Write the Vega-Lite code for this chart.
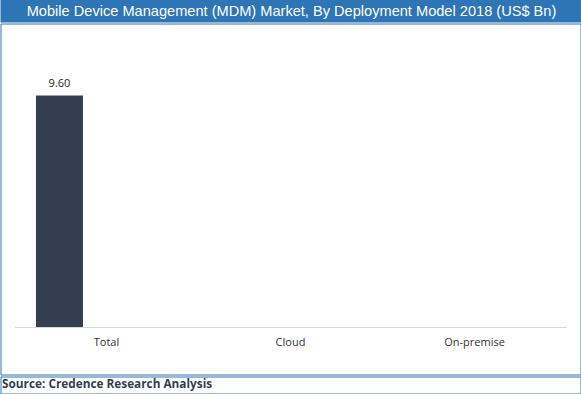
{
  "$schema": "https://vega.github.io/schema/vega-lite/v6.json",
  "padding": {"left": -0.5, "top": -0.5, "right": 0, "bottom": 0},
  "background": "white",
  "spacing": 0,
  "config": {"view": {"stroke": null}},
  "vconcat": [
    {
      "width": 582,
      "height": 23,
      "view": {"fill": "#2E75B6", "stroke": null},
      "data": {"values": [{"t": "Mobile Device Management (MDM) Market, By Deployment Model 2018 (US$ Bn)"}]},
      "mark": {"type": "text", "color": "white", "font": "Liberation Sans", "fontSize": 14.6, "baseline": "middle", "align": "center", "dy": 0.5},
      "encoding": {"text": {"field": "t"}}
    },
    {
      "spacing": 0,
      "vconcat": [
        {
          "width": 580,
          "height": 351,
          "view": {"stroke": "#2E75B6", "strokeWidth": 1},
          "data": {"values": [
            {"category": "Total", "series": "Total", "value": 9.6},
            {"category": "Cloud", "series": "Cloud", "value": null},
            {"category": "On-premise", "series": "On-premise", "value": null}
          ]},
          "encoding": {
            "x": {"field": "category", "type": "nominal", "sort": null,
              "scale": {"domain": ["Total", "Cloud", "On-premise"], "paddingInner": 0, "paddingOuter": 0.076},
              "axis": {"orient": "bottom", "offset": -47, "title": null, "domain": false, "ticks": false, "labelPadding": 9, "labelFont": "Open Sans", "labelFontSize": 11, "labelColor": "#333333", "labelAngle": 0}},
            "xOffset": {"field": "series", "type": "nominal",
              "scale": {"domain": ["Total", "Cloud", "On-premise"], "paddingInner": 0, "paddingOuter": 0.457}},
            "y": {"field": "value", "type": "quantitative",
              "scale": {"domain": [-1.945, 12.58], "nice": false, "zero": false}, "axis": null}
          },
          "layer": [
            {"mark": {"type": "bar", "color": "#333F50"}, "encoding": {"y2": {"datum": 0}}},
            {"mark": {"type": "text", "baseline": "bottom", "dy": -7, "font": "Open Sans", "fontSize": 11, "color": "#222222"},
             "encoding": {"text": {"field": "value", "type": "quantitative", "format": ".2f"}}},
            {"data": {"values": [{"a": "Total", "b": "On-premise", "z": 0}]},
             "mark": {"type": "rule", "color": "#D9D9D9", "strokeWidth": 1},
             "encoding": {
               "x": {"field": "a", "type": "nominal", "bandPosition": 0},
               "x2": {"field": "b", "bandPosition": 1},
               "xOffset": null,
               "y": {"field": "z", "type": "quantitative"}
             }}
          ]
        },
        {
          "width": 580,
          "height": 17,
          "view": {"stroke": "#2E75B6", "strokeWidth": 1},
          "data": {"values": [{"t": "Source: Credence Research Analysis"}]},
          "mark": {"type": "text", "align": "left", "baseline": "middle", "font": "Open Sans", "fontSize": 11.8, "fontWeight": "bold", "color": "#333F50", "dy": -1},
          "encoding": {"text": {"field": "t"}, "x": {"value": 1.5}}
        }
      ]
    }
  ]
}
